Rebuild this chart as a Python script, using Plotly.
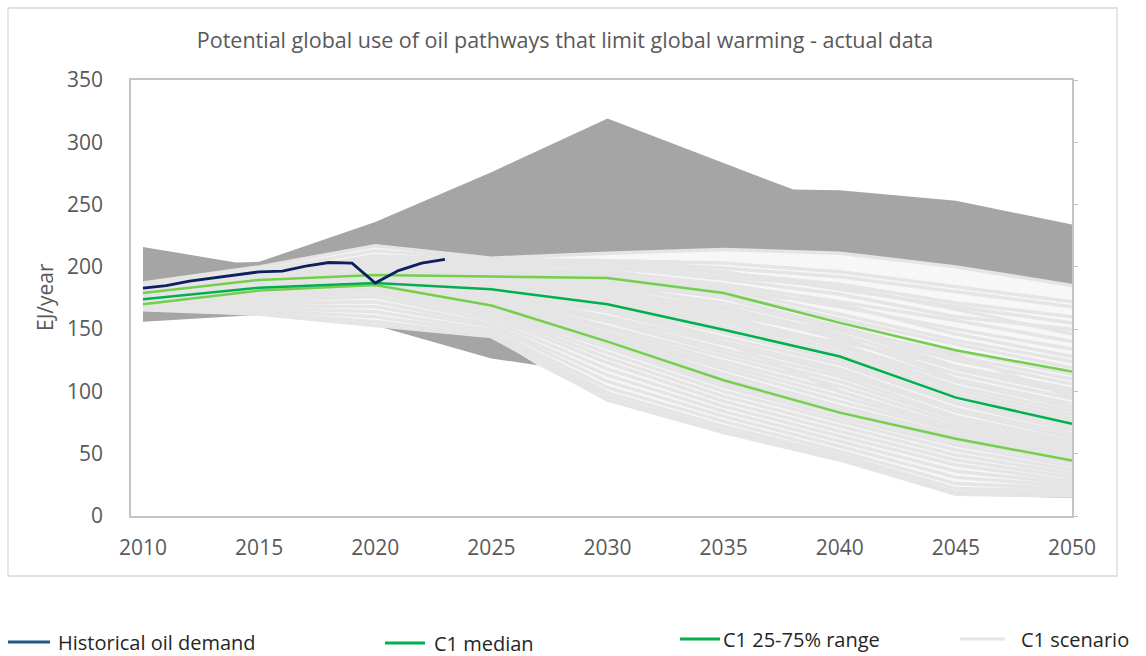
import plotly.graph_objects as go

# ---- data -------------------------------------------------------------
HIST_YEARS = list(range(2010, 2024))
HIST_OIL = [183, 185, 188.5, 191, 194, 196, 196.5, 200.5, 203.5, 203, 187, 197, 203, 206]

STEP_YEARS = [2010, 2015, 2020, 2025, 2030, 2035, 2040, 2045, 2050]
C1_MEDIAN = [174, 183.3, 187, 182, 170, 149.5, 128, 95, 74]
C1_P75 = [179, 189.5, 193.5, 192.5, 191, 179, 155, 133, 116]
C1_P25 = [170, 181, 185.5, 169, 140, 109, 83, 62, 44.5]

# envelope of all pathways
ALL_UP_YEARS = [2010, 2014, 2015, 2020, 2025, 2030, 2038, 2040, 2045, 2050]
ALL_UP = [216, 203.5, 204, 236, 276, 319, 262, 261.5, 253, 234]
ALL_LO_YEARS = [2010, 2015, 2020, 2025, 2027, 2030, 2035, 2040, 2045, 2050]
ALL_LO = [156, 161.5, 153, 126.5, 121, 93, 66, 44.5, 17, 14.5]

# envelope of the C1 pathways
C1_UP_YEARS = [2010, 2015, 2020, 2025, 2030, 2035, 2040, 2045, 2050]
C1_UP = [187, 200, 217, 207, 211, 214, 211.5, 200, 185]
C1_LO_YEARS = [2010, 2015, 2020, 2025, 2027, 2030, 2035, 2040, 2045, 2050]
C1_LO = [165.5, 162, 153, 144, 121, 93, 67, 45, 17.5, 16]

# individual C1 scenarios (values at STEP_YEARS)
C1_SCENARIOS = [
    [187, 200, 217, 207, 211, 214, 211, 200, 185],
    [184, 197, 213, 206, 205, 203, 196, 184, 172],
    [181, 194, 209, 205, 204, 199, 192, 180, 168],
    [186, 196, 206, 204, 201, 195, 186, 171, 160],
    [180, 193, 204, 203, 203, 196, 182, 168, 155],
    [183, 192, 202, 202, 199, 192, 184, 166, 146],
    [179, 191, 200, 201, 200, 190, 178, 160, 150],
    [182, 190, 198, 199, 196, 186, 172, 157, 140],
    [178, 191, 197, 197, 197, 184, 168, 150, 134],
    [181, 189, 196, 196, 194, 181, 170, 146, 128],
    [177, 190, 195, 195, 193, 182, 162, 141, 124],
    [180, 189, 194, 194, 192, 179, 158, 138, 119],
    [176, 188, 193, 193, 190, 178, 156, 132, 114],
    [178, 187, 192, 192, 189, 175, 152, 128, 110],
    [175, 188, 192, 190, 186, 176, 149, 125, 106],
    [177, 186, 191, 191, 184, 171, 150, 120, 102],
    [174, 187, 190, 189, 187, 168, 146, 118, 98],
    [176, 185, 190, 188, 182, 166, 142, 114, 94],
    [173, 186, 189, 187, 180, 163, 144, 110, 90],
    [175, 184, 189, 186, 178, 160, 138, 108, 87],
    [172, 185, 188, 185, 177, 158, 136, 104, 84],
    [174, 184, 188, 184, 174, 155, 133, 101, 81],
    [171, 183, 187, 183, 172, 152, 130, 98, 78],
    [173, 184, 187, 183, 171, 150, 129, 96, 76],
    [172, 183, 187, 182, 168, 147, 125, 92, 72],
    [170, 183, 186, 181, 166, 143, 122, 90, 69],
    [173, 182, 186, 179, 164, 140, 118, 86, 66],
    [171, 183, 186, 178, 160, 138, 115, 84, 63],
    [169, 182, 186, 177, 158, 134, 112, 80, 60],
    [172, 182, 185, 176, 156, 131, 108, 78, 57],
    [170, 181, 185, 175, 152, 128, 104, 75, 54],
    [168, 182, 185, 173, 150, 124, 100, 72, 52],
    [171, 181, 185, 172, 147, 121, 96, 70, 50],
    [169, 181, 185, 171, 145, 118, 92, 68, 48],
    [170, 180, 184, 170, 143, 114, 88, 65, 46],
    [168, 181, 184, 169, 141, 111, 85, 63, 45],
    [169, 180, 184, 168, 138, 107, 82, 60, 43],
    [167, 179, 183, 166, 135, 104, 79, 57, 40],
    [168, 178, 182, 164, 131, 100, 76, 53, 37],
    [166, 177, 181, 162, 127, 96, 72, 49, 34],
    [167, 175, 179, 160, 123, 92, 68, 45, 31],
    [166, 173, 176, 157, 118, 88, 64, 41, 28],
    [168, 171, 172, 154, 113, 84, 60, 36, 26],
    [166, 169, 168, 152, 108, 80, 56, 31, 24],
    [167, 167, 164, 149, 103, 76, 52, 26, 22],
    [166, 165, 160, 147, 99, 72, 49, 22, 20],
    [166, 163, 156, 145, 96, 69, 47, 19, 18],
    [165.5, 162, 153, 144, 93, 67, 45, 17.5, 16],
    [175, 186, 190, 185, 165, 150, 140, 120, 100],
    [170, 180, 184, 178, 170, 140, 100, 70, 60],
    [178, 190, 196, 190, 175, 160, 150, 130, 95],
]

X_TICKS = [2010, 2015, 2020, 2025, 2030, 2035, 2040, 2045, 2050]
X_TICK_TEXT = ["2010", "2015", "2020", "2025", "2030", "2035", "2040", "2045", "2050"]
Y_TICKS = [0, 50, 100, 150, 200, 250, 300, 350]

TITLE = "Potential global use of oil pathways that limit global warming - actual data"
Y_TITLE = "EJ/year"

# legend entries: label, sample colour, sample start/end and row (page pixels)
LEGEND_LABELS = ["Historical oil demand", "C1 median", "C1 25-75% range", "C1 scenario"]
LEGEND_COLOURS = ["#1f5a86", "#00b050", "#00b050", "#e6e6e6"]
LEGEND_X0 = [8, 385, 680, 960]
LEGEND_X1 = [50, 425, 720, 1005]
LEGEND_TEXT_X = [57, 433, 722, 1020]
LEGEND_ROW = [642, 643, 639, 639]

# ---- styling ----------------------------------------------------------
FONT = "Open Sans, Liberation Sans, Arial, sans-serif"
TEXT_GREY = "#595959"
DARK_GREY = "#a5a5a5"
C1_BAND = "#f7f7f7"
C1_LINE = "#e5e5e5"
MEDIAN_GREEN = "#00b050"
QUART_GREEN = "#74d04c"
HIST_BLUE = "#0c1f5e"

L, R, T, B = 131, 1072, 80, 516
W, H = 1146, 656


def px_to_paper_x(px):
    return (px - L) / (R - L)


def px_to_paper_y(py):
    return (B - py) / (B - T)


fig = go.Figure()

# envelope of all pathways (closed polygon)
fig.add_trace(go.Scatter(
    x=ALL_UP_YEARS + ALL_LO_YEARS[::-1],
    y=ALL_UP + ALL_LO[::-1],
    fill="toself", fillcolor=DARK_GREY, mode="lines",
    line=dict(width=0, color=DARK_GREY), showlegend=False, hoverinfo="skip",
))

# envelope of C1 pathways
fig.add_trace(go.Scatter(
    x=C1_UP_YEARS + C1_LO_YEARS[::-1],
    y=C1_UP + C1_LO[::-1],
    fill="toself", fillcolor=C1_BAND, mode="lines",
    line=dict(width=0, color=C1_BAND), showlegend=False, hoverinfo="skip",
))

for scen in C1_SCENARIOS:
    fig.add_trace(go.Scatter(
        x=STEP_YEARS, y=scen, mode="lines",
        line=dict(color=C1_LINE, width=3.5), showlegend=False, hoverinfo="skip",
    ))

for series, colour in ((C1_P75, QUART_GREEN), (C1_P25, QUART_GREEN), (C1_MEDIAN, MEDIAN_GREEN)):
    fig.add_trace(go.Scatter(
        x=STEP_YEARS, y=series, mode="lines",
        line=dict(color=colour, width=2.5), showlegend=False,
    ))

fig.add_trace(go.Scatter(
    x=HIST_YEARS, y=HIST_OIL, mode="lines",
    line=dict(color=HIST_BLUE, width=2.8), showlegend=False,
))

# secondary axis carrying only the outward ticks on the right edge
fig.add_trace(go.Scatter(x=[None], y=[None], yaxis="y2", showlegend=False))

shapes = [dict(
    type="rect", xref="paper", yref="paper",
    x0=px_to_paper_x(8), x1=px_to_paper_x(1117),
    y0=px_to_paper_y(576), y1=px_to_paper_y(8),
    line=dict(color="#d9d9d9", width=1.3), fillcolor="rgba(0,0,0,0)", layer="below",
)]
annotations = [dict(
    text=Y_TITLE, textangle=-90, xref="paper", yref="paper",
    x=px_to_paper_x(45), y=px_to_paper_y(297), xanchor="center", yanchor="middle",
    showarrow=False, font=dict(family=FONT, size=21, color=TEXT_GREY),
)]

# legend drawn underneath the framed chart
for label, colour, x0, x1, tx, row in zip(LEGEND_LABELS, LEGEND_COLOURS, LEGEND_X0,
                                          LEGEND_X1, LEGEND_TEXT_X, LEGEND_ROW):
    shapes.append(dict(
        type="line", xref="paper", yref="paper",
        x0=px_to_paper_x(x0), x1=px_to_paper_x(x1),
        y0=px_to_paper_y(row), y1=px_to_paper_y(row),
        line=dict(color=colour, width=3),
    ))
    annotations.append(dict(
        text=label, xref="paper", yref="paper",
        x=px_to_paper_x(tx), y=px_to_paper_y(row), xanchor="left", yanchor="middle",
        showarrow=False, borderpad=0, font=dict(family=FONT, size=20, color="#262626"),
    ))

fig.update_layout(
    width=W, height=H,
    margin=dict(l=L, r=W - R, t=T, b=H - B, autoexpand=False),
    paper_bgcolor="white", plot_bgcolor="white",
    showlegend=False,
    title=dict(text=TITLE, x=565 / W, xanchor="center", y=1 - 40 / H, yanchor="middle",
               xref="container", yref="container",
               font=dict(family=FONT, size=21.5, color=TEXT_GREY)),
    xaxis=dict(
        range=[2010 - 12 / 23.225, 2050], tickvals=X_TICKS, ticktext=X_TICK_TEXT,
        showgrid=False, zeroline=False, showline=True, linecolor="#c4c4c4", linewidth=1.5,
        mirror=True, ticks="", ticklabelstandoff=12,
        tickfont=dict(family=FONT, size=21, color=TEXT_GREY),
    ),
    yaxis=dict(
        range=[0, 350], tickvals=Y_TICKS, showgrid=False, zeroline=False,
        showline=True, linecolor="#c4c4c4", linewidth=1.5, mirror=True, ticks="",
        ticklabelstandoff=22,
        tickfont=dict(family=FONT, size=21, color=TEXT_GREY),
    ),
    yaxis2=dict(
        range=[0, 350], tickvals=Y_TICKS, overlaying="y", side="right",
        showgrid=False, zeroline=False, showline=False, showticklabels=False,
        ticks="outside", ticklen=5, tickcolor="#c4c4c4", tickwidth=1.2,
    ),
    shapes=shapes,
    annotations=annotations,
)

fig.write_html("out.html")
